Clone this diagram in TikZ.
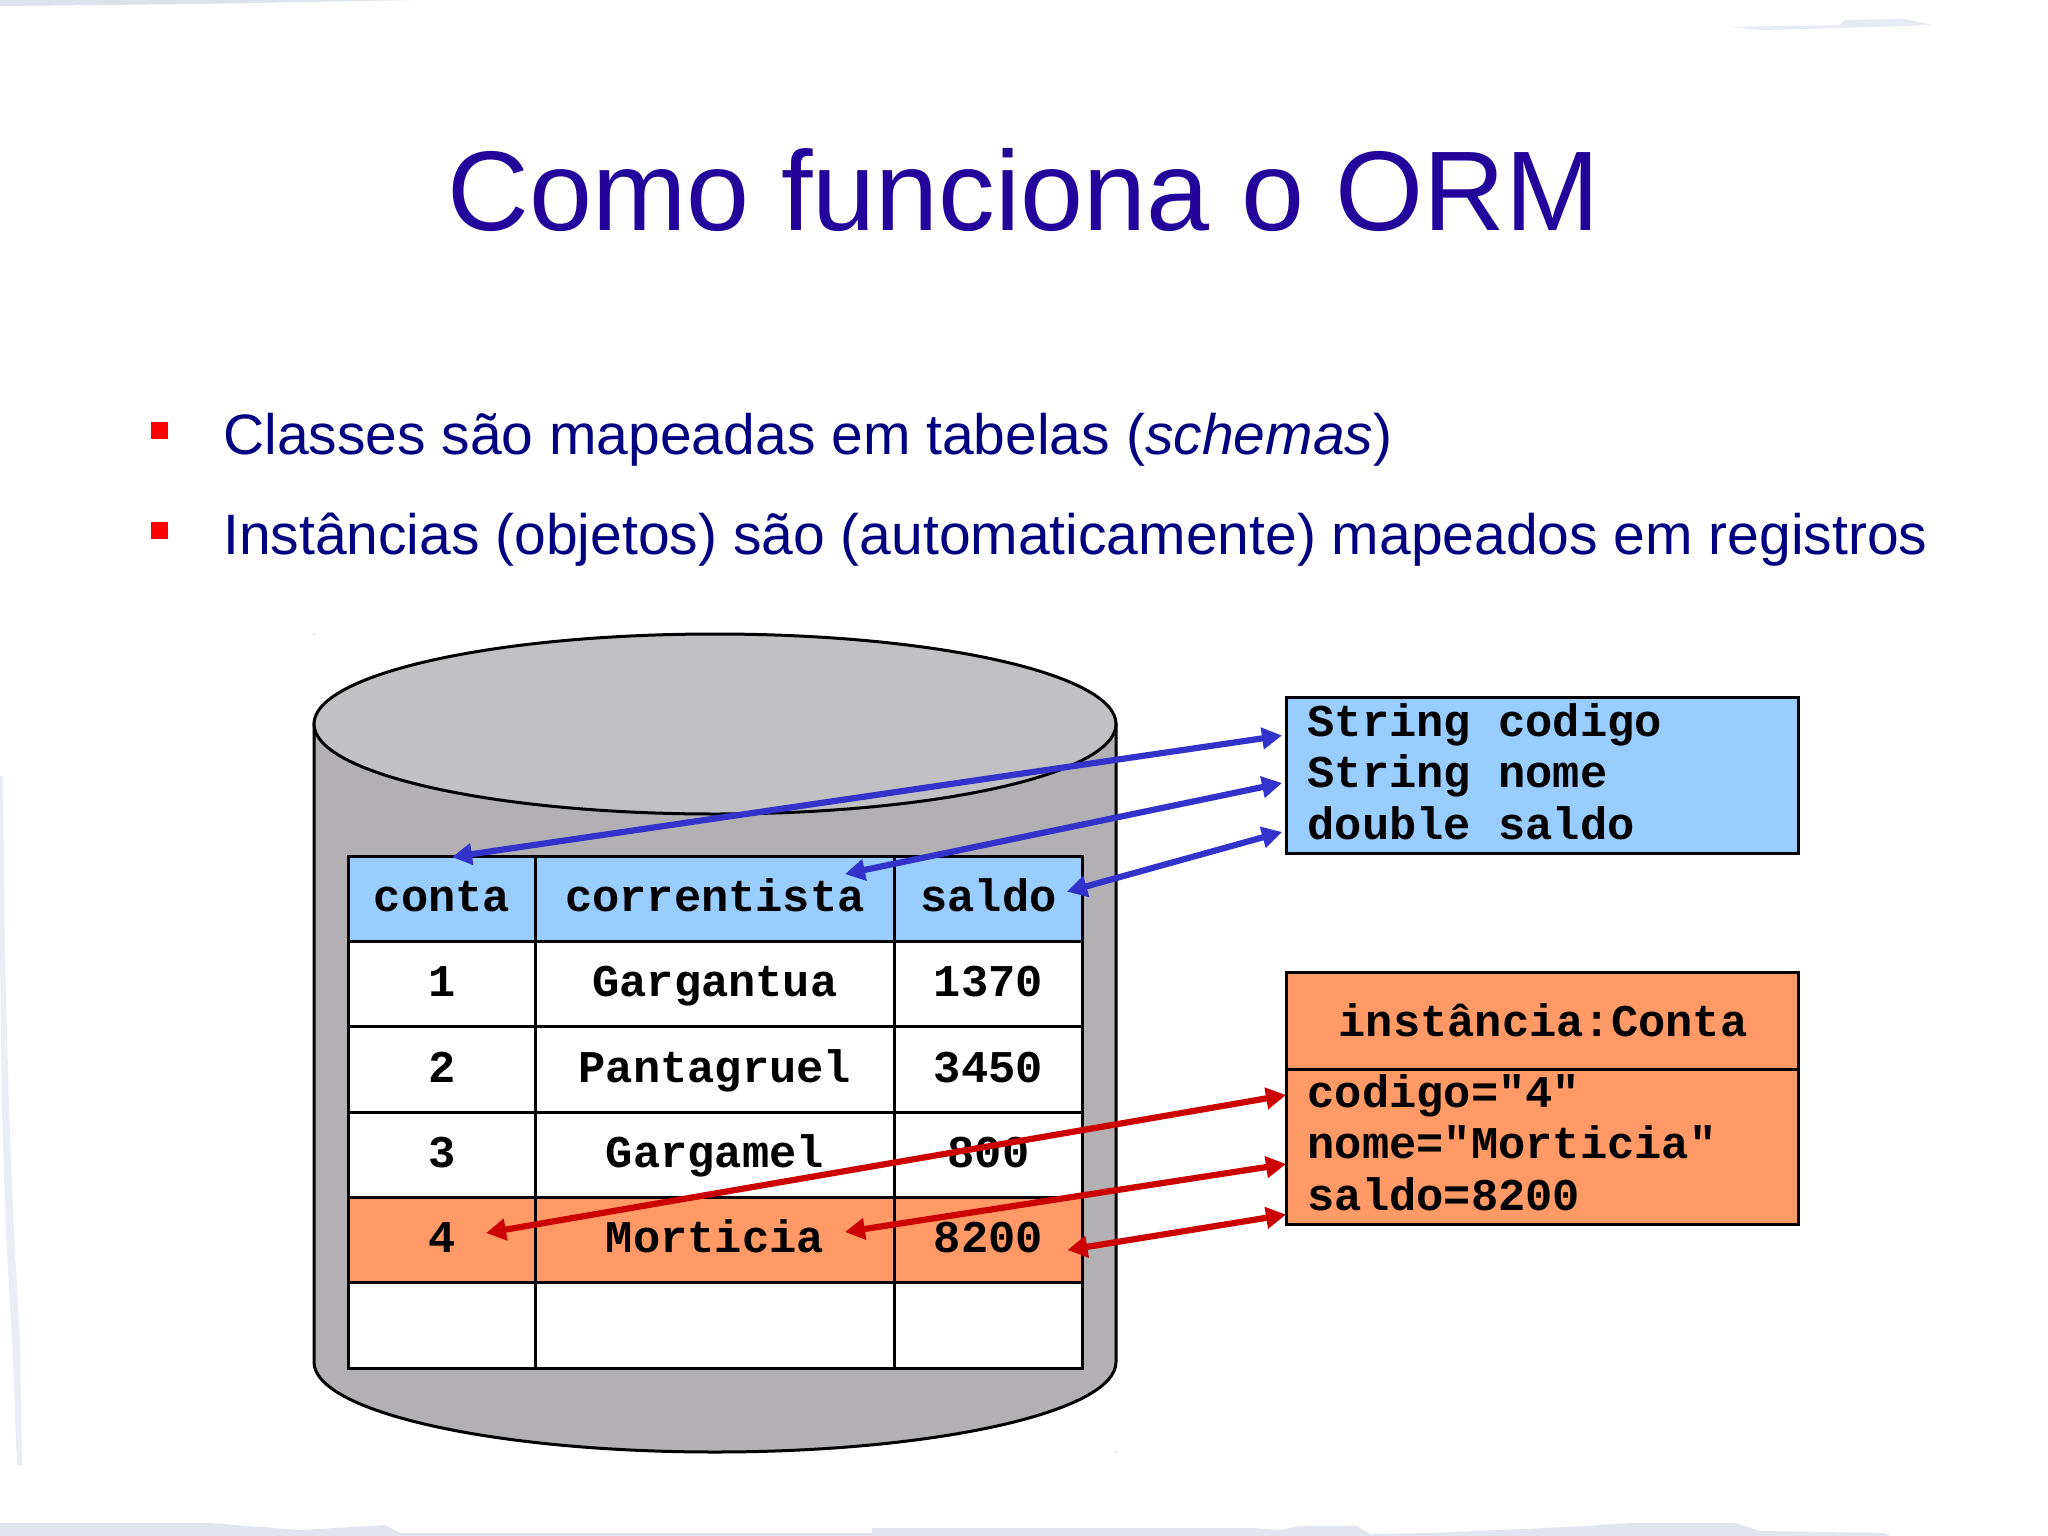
\documentclass[tikz,border=0pt]{standalone}
\usepackage{fontspec}
\setmainfont{Liberation Sans}
\newfontfamily\monob[Scale=1]{Liberation Mono Bold}
\usetikzlibrary{arrows.meta}
\definecolor{titlec}{HTML}{23059B}
\definecolor{bodyc}{HTML}{000080}
\definecolor{cylbody}{HTML}{B2B0B2}
\definecolor{cyltop}{HTML}{C1C0C2}
\definecolor{headc}{HTML}{99CCFF}
\definecolor{orangec}{HTML}{FF9966}
\definecolor{bluea}{HTML}{3333CC}
\definecolor{reda}{HTML}{CC0000}
\definecolor{smear}{HTML}{DDE1EC}
\tikzset{
  x=1pt,y=-1pt,
  cell/.style={draw=black,line width=3pt,fill=white,minimum width=#1,minimum height=85.3pt,inner sep=0pt,text height=40pt,text depth=15.2pt,font=\monob\fontsize{45.4}{51.4}\selectfont},
  objbox/.style={draw=black,line width=3pt,inner sep=0pt,outer sep=0pt,anchor=north west},
  code/.style={anchor=base west,inner sep=0pt,font=\monob\fontsize{45.4}{51.4}\selectfont},
  bullet/.style={anchor=base west,inner sep=0pt,text=bodyc,font=\fontsize{57}{60}\selectfont},
  mapb/.style={draw=bluea,line width=6.2pt,{Triangle[length=20pt,width=21pt]}-{Triangle[length=20pt,width=21pt]}},
  mapr/.style={draw=reda,line width=6.2pt,{Triangle[length=20pt,width=21pt]}-{Triangle[length=20pt,width=21pt]}},
  cylline/.style={draw=black,line width=3pt}
}
\begin{document}
\begin{tikzpicture}
\useasboundingbox (0,0) rectangle (2048,1536);
\fill[white] (0,0) rectangle (2048,1536);
% slide edge smudges
\fill[smear!85!white] (0,1523) -- (209,1523) -- (300,1530) -- (385,1525) -- (400,1533) -- (872,1533) -- (872,1528) -- (1253,1528) -- (1280,1530) -- (1300,1526) -- (1357,1526) -- (1370,1534) -- (1430,1533) -- (1567,1527) -- (1632,1523) -- (1736,1523) -- (1760,1531) -- (1885,1533) -- (1890,1536) -- (0,1536) -- cycle;
\fill[smear!60!white] (0,776) -- (3,776) -- (5,955) -- (9,1108) -- (14,1236) -- (20,1338) -- (22,1465) -- (17,1465) -- (12,1338) -- (6,1236) -- (2,1108) -- (0,955) -- cycle;
\fill[smear] (0,0) -- (415,0) -- (300,2) -- (200,4) -- (0,6) -- cycle;
\fill[smear!70!white] (1730,27) -- (1840,25) -- (1845,20) -- (1905,19) -- (1932,25) -- (1840,28) -- (1760,30) -- cycle;
% title and bullets
\node[anchor=base,inner sep=0pt,text=titlec,font=\fontsize{113.3}{120}\selectfont] (title) at (1024,230) {Como funciona o ORM};
\fill[red] (151,422) rectangle (168,439);
\fill[red] (151,522) rectangle (168,539);
\node[bullet] (b1) at (223,454) {Classes são mapeadas em tabelas (\textit{schemas})};
\node[bullet] (b2) at (223,554) {Instâncias (objetos) são (automaticamente) mapeados em registros};
% cylinder
\path[cylline,fill=cylbody] (314,724) -- (314,1362) arc[start angle=180,end angle=360,x radius=401,y radius=-90] -- (1116,724) -- cycle;
\draw[cylline,fill=cyltop] (715,724) ellipse[x radius=401,y radius=90];
\fill[gray] (314,634) circle[radius=0.7];
\fill[gray] (1116,1452) circle[radius=0.7];
% table
\foreach \y/\a/\b/\c/\k/\n in {899/conta/correntista/saldo/headc/h,984.3/1/Gargantua/1370/white/r1,1069.6/2/Pantagruel/3450/white/r2,1154.9/3/Gargamel/800/white/r3,1240.2/4/Morticia/8200/orangec/r4,1325.5///\relax/white/r5}{
  \node[cell=187.6pt,fill=\k] (\n a) at (442,\y) {\a};
  \node[cell=358.2pt,fill=\k] (\n b) at (714.9,\y) {\b};
  \node[cell=187.6pt,fill=\k] (\n c) at (988.4,\y) {\c};
}
% object boxes
\node[objbox,fill=headc,minimum width=512pt,minimum height=155.5pt] (cls) at (1286.5,697.5) {};
\node[objbox,fill=orangec,minimum width=512pt,minimum height=97pt] (insttop) at (1286.5,972) {};
\node[objbox,fill=orangec,minimum width=512pt,minimum height=155pt] (instbody) at (1286.5,1069) {};
\node[code] (c1) at (1307.5,736) {String codigo};
\node[code] (c2) at (1307.5,787.3) {String nome};
\node[code] (c3) at (1307.5,839) {double saldo};
\node[code,anchor=base] (i0) at (1543,1036) {instância:Conta};
\node[code] (i1) at (1307.5,1107.3) {codigo="4"};
\node[code] (i2) at (1307.5,1158.9) {nome="Morticia"};
\node[code] (i3) at (1307.5,1210.3) {saldo=8200};
% connector ends
\coordinate (bl1) at (452,857);
\coordinate (bl2) at (845,874);
\coordinate (bl3) at (1067,891.7);
\coordinate (br1) at (1282,735.5);
\coordinate (br2) at (1282,783);
\coordinate (br3) at (1282,832);
\coordinate (rl1) at (486,1233);
\coordinate (rl2) at (845,1232);
\coordinate (rl3) at (1067.4,1250);
\coordinate (rr1) at (1286,1095);
\coordinate (rr2) at (1286,1164);
\coordinate (rr3) at (1286,1214.6);
\draw[mapb] (bl1) -- (br1);
\draw[mapb] (bl2) -- (br2);
\draw[mapb] (bl3) -- (br3);
\draw[mapr] (rl1) -- (rr1);
\draw[mapr] (rl2) -- (rr2);
\draw[mapr] (rl3) -- (rr3);
\end{tikzpicture}
\end{document}
